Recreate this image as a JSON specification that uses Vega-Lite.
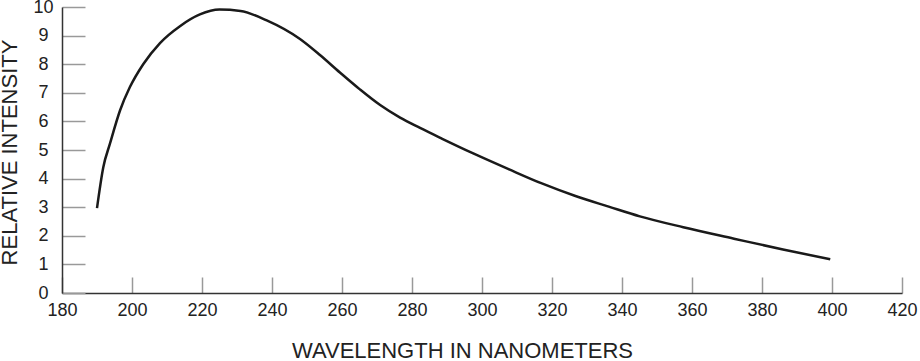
{
  "$schema": "https://vega.github.io/schema/vega-lite/v6.json",
  "autosize": "none",
  "padding": {"left": 62, "top": 7, "right": 18, "bottom": 68},
  "width": 840,
  "height": 286,
  "background": "white",
  "config": {
    "view": {"stroke": null},
    "font": "Liberation Sans",
    "axis": {
      "labelFont": "Liberation Sans",
      "titleFont": "Liberation Sans",
      "labelColor": "#222",
      "titleColor": "#222",
      "labelFontSize": 18,
      "titleFontSize": 22,
      "titleFontWeight": "normal",
      "domainColor": "#333",
      "domainWidth": 1.5,
      "tickColor": "#999",
      "tickWidth": 1.5,
      "grid": false
    }
  },
  "data": {
    "values": [
      {"wavelength": 190, "intensity": 2.97},
      {"wavelength": 191.8, "intensity": 4.4},
      {"wavelength": 193.7, "intensity": 5.22},
      {"wavelength": 196.6, "intensity": 6.39},
      {"wavelength": 199.4, "intensity": 7.2},
      {"wavelength": 203.2, "intensity": 8.0},
      {"wavelength": 208, "intensity": 8.74},
      {"wavelength": 213.7, "intensity": 9.33},
      {"wavelength": 219.4, "intensity": 9.74},
      {"wavelength": 225, "intensity": 9.91},
      {"wavelength": 231, "intensity": 9.86},
      {"wavelength": 238.5, "intensity": 9.53},
      {"wavelength": 248, "intensity": 8.88},
      {"wavelength": 253.7, "intensity": 8.32},
      {"wavelength": 259.4, "intensity": 7.71},
      {"wavelength": 265.1, "intensity": 7.12},
      {"wavelength": 270.9, "intensity": 6.57},
      {"wavelength": 276.6, "intensity": 6.13},
      {"wavelength": 282.3, "intensity": 5.77},
      {"wavelength": 288.5, "intensity": 5.4},
      {"wavelength": 297.5, "intensity": 4.88},
      {"wavelength": 307.6, "intensity": 4.33},
      {"wavelength": 317.1, "intensity": 3.83},
      {"wavelength": 326.7, "intensity": 3.39},
      {"wavelength": 336.2, "intensity": 3.02},
      {"wavelength": 345.1, "intensity": 2.68},
      {"wavelength": 357.5, "intensity": 2.3},
      {"wavelength": 372, "intensity": 1.9},
      {"wavelength": 386, "intensity": 1.52},
      {"wavelength": 399.5, "intensity": 1.18}
    ]
  },
  "mark": {"type": "line", "interpolate": "monotone", "color": "#1a1a1a", "strokeWidth": 2.5},
  "encoding": {
    "x": {
      "field": "wavelength",
      "type": "quantitative",
      "scale": {"domain": [180, 420], "nice": false, "zero": false},
      "axis": {
        "title": "WAVELENGTH IN NANOMETERS",
        "values": [180, 200, 220, 240, 260, 280, 300, 320, 340, 360, 380, 400, 420],
        "tickSize": -16,
        "labelPadding": 24,
        "labelFlush": false,
        "labelOverlap": false,
        "titleX": 400,
        "titleY": 64,
        "titleBaseline": "alphabetic",
        "titleAnchor": "middle"
      }
    },
    "y": {
      "field": "intensity",
      "type": "quantitative",
      "scale": {"domain": [0, 10], "nice": false},
      "axis": {
        "title": "RELATIVE INTENSITY",
        "values": [0, 1, 2, 3, 4, 5, 6, 7, 8, 9, 10],
        "tickSize": -23,
        "labelAlign": "center",
        "labelBaseline": "middle",
        "labelPadding": 42,
        "labelFlush": false,
        "labelOverlap": false,
        "titleX": -46,
        "titleY": 145,
        "titleBaseline": "alphabetic",
        "titleAnchor": "middle"
      }
    }
  }
}
